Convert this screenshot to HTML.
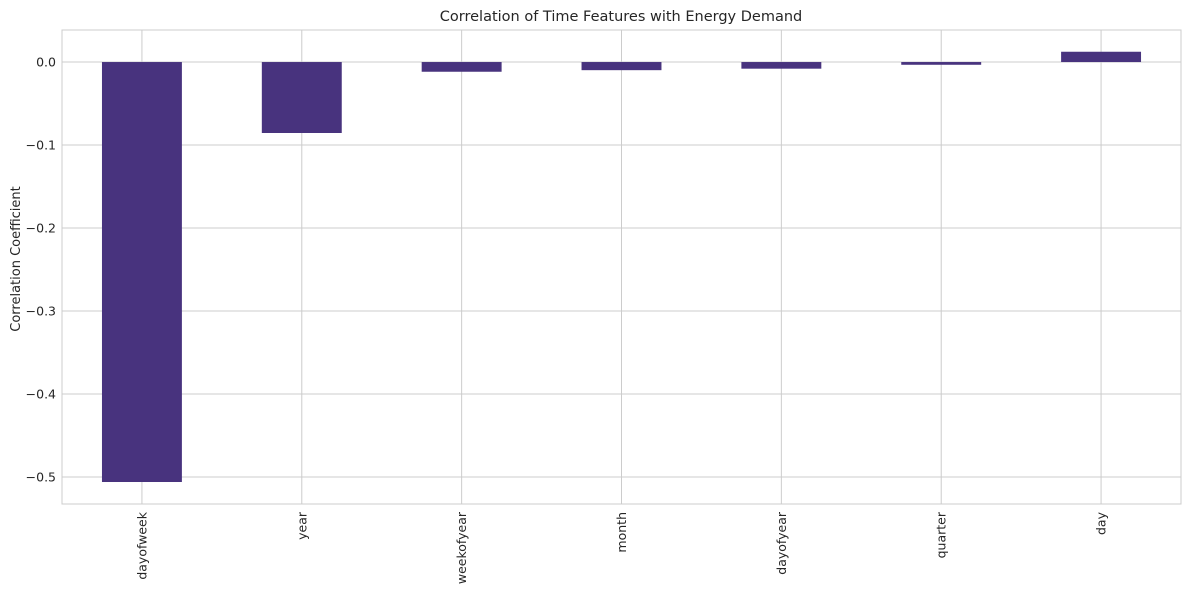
<!DOCTYPE html>
<html><head><meta charset="utf-8"><style>
body{margin:0;background:#fff;}
svg{display:block;font-family:"DejaVu Sans","Liberation Sans",sans-serif;}
</style></head><body>
<svg id="chart" width="1191" height="590">
<text x="621" y="21" text-anchor="middle" font-size="14.5" fill="#262626">Correlation of Time Features with Energy Demand</text>
<text transform="translate(20,259) rotate(-90)" text-anchor="middle" font-size="13" fill="#262626">Correlation Coefficient</text>
<g id="grid"></g><g id="bars"></g><g id="ticks"></g>
<rect x="62" y="30" width="1119" height="474" fill="none" stroke="#cccccc" stroke-width="1"/>
</svg>
<script>
const categories=["dayofweek","year","weekofyear","month","dayofyear","quarter","day"];
const values=[-0.506,-0.0855,-0.0117,-0.0098,-0.008,-0.0033,0.0124];
const yTicks=[0.0,-0.1,-0.2,-0.3,-0.4,-0.5];
const yTickLabels=["0.0","\u22120.1","\u22120.2","\u22120.3","\u22120.4","\u22120.5"];
const L=62,R=1181,T=30,B=504,yMax=0.0386,yMin=-0.5325;
const NS="http://www.w3.org/2000/svg";
function y(v){return T+(yMax-v)/(yMax-yMin)*(B-T);}
function x(i){return L+(i+0.5)*(R-L)/categories.length;}
const bw=0.5*(R-L)/categories.length;
function mk(t,a,p){const e=document.createElementNS(NS,t);for(const k in a)e.setAttribute(k,a[k]);p.appendChild(e);return e;}
const grid=document.getElementById('grid'),bars=document.getElementById('bars'),ticks=document.getElementById('ticks');
yTicks.forEach((v,i)=>{
 const l=mk('line',{x1:L,x2:R,y1:y(v),y2:y(v),stroke:'#cccccc','stroke-width':1},grid);
 
 
 const t=mk('text',{x:L-6,y:y(v)+4.5,'text-anchor':'end','font-size':12.5,fill:'#262626'},ticks);
 t.textContent=yTickLabels[i];
 
 
});
categories.forEach((c,i)=>{
 const l=mk('line',{x1:x(i),x2:x(i),y1:T,y2:B,stroke:'#cccccc','stroke-width':1},grid);
 
 
 const y0=y(0),yv=y(values[i]);
 const r=mk('rect',{x:x(i)-bw/2,y:Math.min(y0,yv),width:bw,height:Math.abs(yv-y0),fill:'#48337e'},bars);
 
 
 const t=mk('text',{transform:`translate(${x(i)+4.5},${B+8}) rotate(-90)`,'text-anchor':'end','font-size':12.5,fill:'#262626'},ticks);
 t.textContent=c;
 
 
});
</script>
</body></html>
